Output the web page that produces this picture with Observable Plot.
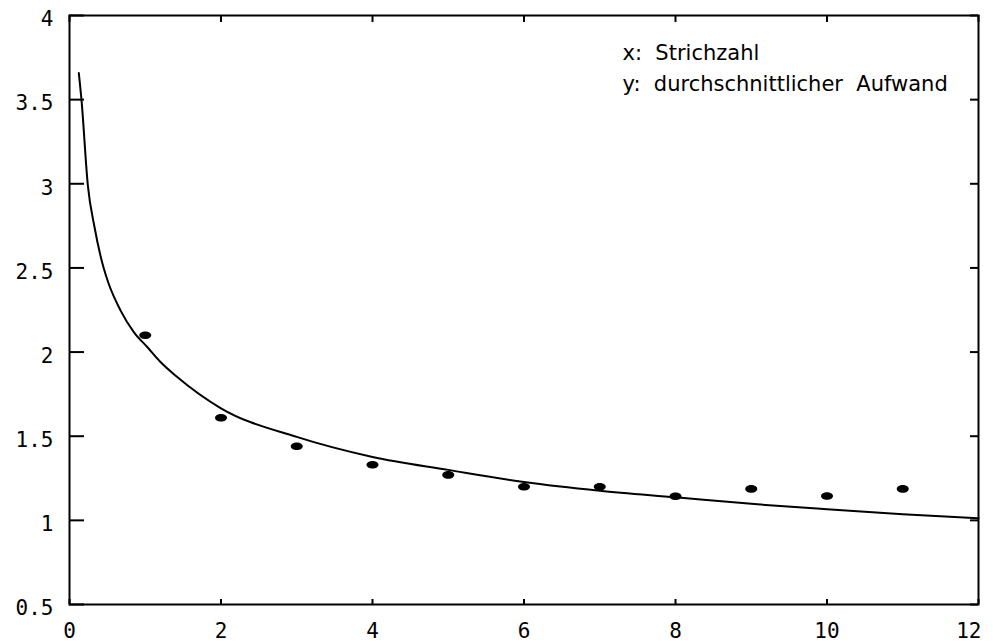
<!DOCTYPE html>
<html>
<head>
<meta charset="utf-8">
<script src="https://cdn.jsdelivr.net/npm/d3@7"></script>
<script src="https://cdn.jsdelivr.net/npm/@observablehq/plot@0.6"></script>
<style>
  html, body { margin: 0; padding: 0; background: #fff; }
  #chart svg { display: block; }
</style>
</head>
<body>
<div id="chart"></div>
<script>
// Measured points (Strichzahl vs. durchschnittlicher Aufwand)
const pointX = [1, 2, 3, 4, 5, 6, 7, 8, 9, 10, 11];
const pointY = [2.10, 1.61, 1.44, 1.33, 1.27, 1.20, 1.20, 1.143, 1.187, 1.145, 1.187];

// Fitted curve
const curveX = [0.123, 0.158, 0.242, 0.33, 0.453, 0.515, 0.673, 0.849, 1.026, 1.201, 1.422, 2, 3, 4, 5, 6, 7, 8, 9, 10, 11, 12];
const curveY = [3.658, 3.5, 2.991, 2.743, 2.496, 2.409, 2.248, 2.119, 2.03, 1.941, 1.852, 1.666, 1.496, 1.377, 1.30, 1.228, 1.176, 1.137, 1.098, 1.066, 1.037, 1.012];

const xTicks = [0, 2, 4, 6, 8, 10, 12];
const yTicks = [0.5, 1, 1.5, 2, 2.5, 3, 3.5, 4];
const yTickLabels = ["0.5", "1", "1.5", "2", "2.5", "3", "3.5", "4"];
const annotation = ["x:  Strichzahl", "y:  durchschnittlicher  Aufwand"];

const points = pointX.map((x, i) => ({x, y: pointY[i]}));
const curve = curveX.map((x, i) => ({x, y: curveY[i]}));

const W = 993, H = 644;
const mL = 69, mR = 15, mT = 15, mB = 40;
const frameW = W - mL - mR, frameH = H - mT - mB;

// ellipse symbol
const ellipse = {
  draw(ctx, size) {
    const rx = 6, ry = 3.8, k = 0.5523;
    ctx.moveTo(rx, 0);
    ctx.bezierCurveTo(rx, ry * k, rx * k, ry, 0, ry);
    ctx.bezierCurveTo(-rx * k, ry, -rx, ry * k, -rx, 0);
    ctx.bezierCurveTo(-rx, -ry * k, -rx * k, -ry, 0, -ry);
    ctx.bezierCurveTo(rx * k, -ry, rx, -ry * k, rx, 0);
    ctx.closePath();
  }
};

const mono = "'DejaVu Sans Mono', 'Liberation Mono', monospace";
const lastX = xTicks[xTicks.length - 1];

const chart = Plot.plot({
  width: W,
  height: H,
  marginLeft: mL,
  marginRight: mR,
  marginTop: mT,
  marginBottom: mB,
  style: {background: "#fff", color: "#000"},
  x: {domain: [0, 12], label: null},
  y: {domain: [0.5, 4], label: null},
  marks: [
    Plot.frame({stroke: "#000", strokeWidth: 2}),
    // inner ticks: left (long), right (short)
    Plot.ruleY(yTicks, {y: d => d, stroke: "#000", strokeWidth: 2, insetRight: frameW - 15}),
    Plot.ruleY(yTicks, {y: d => d, stroke: "#000", strokeWidth: 2, insetLeft: frameW - 8}),
    // inner ticks: bottom and top (short)
    Plot.ruleX(xTicks, {x: d => d, stroke: "#000", strokeWidth: 2, insetTop: frameH - 5}),
    Plot.ruleX(xTicks, {x: d => d, stroke: "#000", strokeWidth: 2, insetBottom: frameH - 7}),
    Plot.axisX({ticks: xTicks.filter(d => d !== lastX), tickSize: 0, tickPadding: 19, fontSize: 21, fontFamily: mono,
      tickFormat: d => String(d), label: null}),
    Plot.axisX({ticks: [lastX], tickSize: 0, tickPadding: 19, fontSize: 21, fontFamily: mono, textAnchor: "end", dx: 3,
      tickFormat: d => String(d), label: null}),
    Plot.axisY({ticks: yTicks, tickSize: 0, tickPadding: 16, fontSize: 21, fontFamily: mono, dy: 4,
      tickFormat: d => yTickLabels[yTicks.indexOf(d)], label: null}),
    Plot.line(curve, {x: "x", y: "y", stroke: "#000", strokeWidth: 2, curve: "monotone-x"}),
    Plot.dot(points, {x: "x", y: "y", symbol: ellipse, fill: "#000", stroke: "none", r: 4}),
    Plot.text([annotation.join("\n")], {
      text: d => d, frameAnchor: "top-left", textAnchor: "start", lineAnchor: "top",
      dx: 622 - mL, dy: 22, lineHeight: 1.5,
      fontSize: 21, fontFamily: "'DejaVu Sans', Verdana, sans-serif", fill: "#000"
    })
  ]
});

document.getElementById("chart").appendChild(chart);
</script>
</body>
</html>
